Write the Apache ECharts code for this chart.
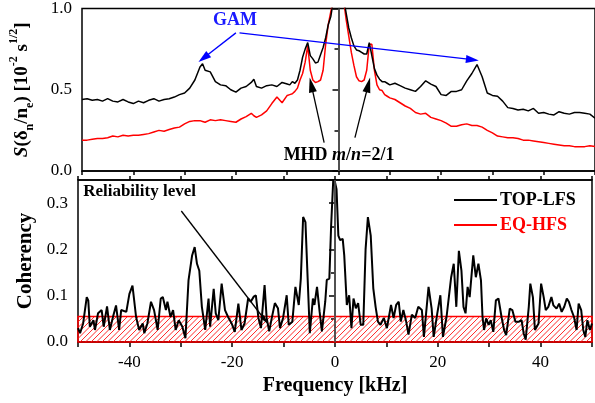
<!DOCTYPE html>
<html>
<head>
<meta charset="utf-8">
<script src="https://cdn.jsdelivr.net/npm/echarts@6/dist/echarts.min.js"></script>
<style>
  html, body { margin: 0; padding: 0; background: #fff; }
  #chart { width: 595px; height: 403px; }
</style>
</head>
<body>
<div id="chart"></div>
<script>
// Density fluctuation spectra (top) and coherency (bottom), frequency in kHz
const specFreq = [
  -50,-49,-48,-47,-46,-45,-44,-43,-42,-41,-40,-39,-38,-37,-36,-35,-34,-33,-32,-31,-30,-29,-28,-27,
  -26.5,
  -26,-25,-24,-23,-22,-21,-20,-19,-18,-17,
  -16.5,
  -16,-15,-14,-13,-12,-11,-10,
  -9.5,-9,-8.5,-8,-7.5,-7,-6.5,-6,-5.5,-5,
  -4.5,-4,-3.5,-3,-2.5,-2,-1.5,-1,-0.5,0,
  0.5,1,1.5,2,2.5,3,3.5,4,4.5,5,
  5.5,6,6.5,7,7.5,8,8.5,9,9.5,10,
  11,12,13,14,15,16,17,18,19,20,21,22,23,24,25,26,27,28,29,30,
  31,32,33,34,35,36,37,38,39,40,41,42,43,44,45,46,47,48,49,50
];
const specTopLfs = [
  0.44,0.445,0.435,0.44,0.43,0.445,0.43,0.425,0.44,0.425,0.415,0.43,0.42,0.435,0.445,0.43,0.44,0.445,0.455,0.47,0.48,0.51,0.56,0.64,
  0.66,
  0.62,0.61,0.55,0.53,0.525,0.50,0.485,0.51,0.52,0.545,
  0.565,
  0.52,0.51,0.525,0.53,0.52,0.545,0.535,
  0.53,0.55,0.54,0.56,0.62,0.70,0.75,0.79,0.71,0.69,
  0.665,0.67,0.715,0.76,0.82,0.90,0.95,1.05,1.1,1.02,
  1.1,1.06,0.97,0.88,0.82,0.77,0.745,0.74,0.73,0.72,
  0.72,0.79,0.71,0.63,0.59,0.565,0.55,0.55,0.54,0.53,
  0.54,0.525,0.51,0.50,0.49,0.52,0.555,0.535,0.52,0.47,0.465,0.49,0.49,0.50,0.555,0.60,0.655,0.58,0.48,0.465,
  0.46,0.43,0.39,0.385,0.375,0.38,0.37,0.385,0.355,0.36,0.35,0.345,0.365,0.355,0.35,0.36,0.36,0.355,0.35,0.325
];
const specEqHfs = [
  0.19,0.19,0.195,0.20,0.20,0.205,0.215,0.21,0.22,0.215,0.22,0.22,0.225,0.23,0.24,0.25,0.245,0.255,0.265,0.27,0.29,0.305,0.31,0.31,
  0.305,
  0.30,0.315,0.31,0.315,0.31,0.305,0.30,0.32,0.335,0.355,
  0.34,
  0.33,0.345,0.37,0.415,0.455,0.42,0.465,
  0.47,0.475,0.49,0.51,0.56,0.60,0.67,0.77,0.62,0.56,
  0.545,0.55,0.56,0.62,0.78,0.90,0.98,1.05,1.1,1.08,
  1.1,1.05,0.93,0.83,0.73,0.65,0.58,0.555,0.55,0.56,
  0.62,0.78,0.78,0.62,0.53,0.50,0.495,0.47,0.46,0.45,
  0.44,0.42,0.40,0.385,0.36,0.35,0.355,0.33,0.32,0.31,0.295,0.275,0.275,0.285,0.29,0.28,0.28,0.27,0.25,0.235,
  0.215,0.21,0.205,0.205,0.20,0.19,0.19,0.185,0.18,0.175,0.17,0.165,0.16,0.155,0.155,0.15,0.15,0.15,0.155,0.15
];

const cohFreq = [
  -50.0,-49.6,-49.0,-48.3,-48.0,-47.7,-47.0,-46.7,-46.1,-45.4,-45.0,-44.35,-43.8,-43.2,-42.6,-42.0,-41.6,-40.6,-40.0,-39.4,
  -38.7,-38.1,-37.4,-37.1,-36.5,-35.8,-35.2,-34.5,-33.9,-33.5,-32.9,-32.6,-32.0,-31.5,-31.0,-30.4,-29.7,-29.1,-28.5,-27.8,
  -27.3,-26.85,-26.4,-25.9,-25.25,-24.6,-24.3,-23.6,-23.2,-22.7,-22.05,-21.4,-20.8,-20.1,-19.5,-18.8,-18.2,-17.6,-16.9,-16.4,
  -15.8,-15.4,-14.9,-14.4,-13.7,-13.3,-12.8,-12.3,-11.7,-11.1,-10.7,-10.1,-9.4,-9.0,-8.3,-7.7,-7.05,-6.65,-6.2,-5.75,
  -5.4,-4.9,-4.3,-4.0,-3.5,-3.0,-2.55,-1.9,-1.6,-1.1,-0.75,-0.3,0.0,0.3,0.65,1.0,1.5,1.8,2.3,2.75,
  3.2,3.6,4.05,4.5,5.0,5.5,5.95,6.4,6.95,7.45,7.9,8.35,8.85,9.5,10.1,10.9,11.4,11.9,12.4,12.8,
  13.3,13.85,14.3,14.95,15.6,16.2,16.9,17.3,18.2,18.8,19.2,19.9,20.5,21.0,21.7,22.6,23.1,23.6,24.1,24.6,
  25.0,25.4,25.8,26.2,26.9,27.4,27.9,28.4,28.7,29.0,29.4,29.9,30.3,30.8,31.3,31.8,32.4,32.9,33.3,34.0,
  34.5,35.1,35.8,36.3,36.7,37.1,37.7,38.0,38.5,38.9,39.6,40.1,40.6,41.0,41.5,42.1,42.5,43.1,43.6,44.1,
  44.6,45.1,45.5,46.0,46.5,47.0,47.4,47.9,48.3,48.7,49.1,49.6,50.0
];
const cohValue = [
  0.030,0.019,0.040,0.097,0.090,0.033,0.047,0.026,0.062,0.069,0.033,0.077,0.026,0.054,0.079,0.026,0.069,0.065,0.104,0.122,
  0.054,0.026,0.040,0.019,0.040,0.087,0.069,0.026,0.094,0.097,0.069,0.087,0.054,0.069,0.026,0.047,0.033,0.008,0.133,0.187,
  0.205,0.169,0.154,0.076,0.026,0.094,0.033,0.115,0.062,0.047,0.126,0.069,0.054,0.040,0.022,0.083,0.026,0.040,0.094,0.087,
  0.098,0.101,0.052,0.030,0.123,0.052,0.023,0.052,0.084,0.073,0.030,0.052,0.101,0.037,0.044,0.119,0.080,0.137,0.270,0.259,
  0.159,0.019,0.094,0.080,0.119,0.066,0.023,0.087,0.134,0.137,0.252,0.360,0.345,0.330,0.230,0.220,0.223,0.187,0.080,0.101,
  0.030,0.094,0.073,0.084,0.037,0.037,0.200,0.270,0.230,0.116,0.076,0.044,0.037,0.052,0.030,0.080,0.052,0.080,0.087,0.044,
  0.069,0.044,0.016,0.059,0.052,0.076,0.069,0.011,0.119,0.072,0.011,0.062,0.101,0.011,0.054,0.140,0.169,0.076,0.197,0.154,
  0.076,0.062,0.119,0.097,0.187,0.140,0.169,0.133,0.054,0.026,0.051,0.037,0.047,0.022,0.090,0.094,0.054,0.026,0.015,0.072,
  0.069,0.044,0.044,0.047,0.019,0.005,0.076,0.126,0.097,0.026,0.040,0.126,0.097,0.069,0.076,0.097,0.079,0.072,0.083,0.065,
  0.076,0.094,0.087,0.069,0.054,0.026,0.083,0.069,0.026,0.011,0.047,0.026,0.040
];
const reliabilityLevel = 0.055;

const seriesNames = ['TOP-LFS', 'EQ-HFS'];
const seriesColors = ['#000000', '#ff0000'];

// annotation anchor points, in data units of each panel
const gamLabelAt = [-20.2, 0.925];
const gamArrowLeft = [[-20.0, 0.85], [-26.3, 0.695]];
const gamArrowRight = [[-19.3, 0.85], [26.1, 0.685]];
const mhdArrowLeft = [[-2.8, 0.175], [-5.3, 0.53]];
const mhdArrowRight = [[3.2, 0.205], [5.8, 0.53]];
const mhdLabelAt = [0.1, 0.095];
const reliabilityLabelAt = [-49.0, 0.324];
const reliabilityArrow = [[-29.9, 0.283], [-13.6, 0.047]];

const FONT = '"Liberation Serif", "Times New Roman", serif';

function zip(xs, ys) { return xs.map((x, i) => [x, ys[i]]); }

const tickLabel = { fontFamily: FONT, fontSize: 17, color: '#000' };
const axisLine = { show: true, lineStyle: { color: '#000', width: 1.5 } };

function arrowPair(a, b, color, size) {
  return [
    { coord: a, symbol: 'none', lineStyle: { color: color, width: 1.3, type: 'solid' } },
    { coord: b, symbol: 'triangle', symbolSize: size, lineStyle: { color: color, width: 1.3, type: 'solid' } }
  ];
}

// hatched band: red frame plus "/" strokes clipped to the band rectangle
function renderBand(params, api) {
  const tl = api.coord([api.value(0), api.value(3)]);
  const br = api.coord([api.value(2), api.value(1)]);
  const x0 = tl[0], y0 = tl[1], x1 = br[0], y1 = br[1];
  const step = 5.5;
  const children = [];
  for (let c = x0 + y0; c <= x1 + y1; c += step) {
    const xa = Math.max(x0, c - y1);
    const xb = Math.min(x1, c - y0);
    if (xb <= xa) continue;
    children.push({
      type: 'line',
      shape: { x1: xa, y1: c - xa, x2: xb, y2: c - xb },
      style: { stroke: '#ff2a2a', lineWidth: 1 }
    });
  }
  children.push({
    type: 'rect',
    shape: { x: x0, y: y0, width: x1 - x0, height: y1 - y0 },
    style: { fill: 'none', stroke: '#ff0000', lineWidth: 1.5 }
  });
  return { type: 'group', children: children };
}

const chart = echarts.init(document.getElementById('chart'), null, { renderer: 'canvas' });

const option = {
  animation: false,
  backgroundColor: '#fff',
  grid: [
    { left: 78, top: 8, width: 519, height: 163, show: true, borderColor: '#000', borderWidth: 1.5, backgroundColor: 'transparent' },
    { left: 78, top: 180, width: 519, height: 162, show: true, borderColor: '#000', borderWidth: 1.5, backgroundColor: 'transparent' }
  ],
  xAxis: [
    {
      type: 'value', gridIndex: 0, min: -50, max: 50, interval: 10, position: 'bottom',
      axisLine: axisLine, axisTick: { show: true, inside: false, length: 4, lineStyle: { width: 1.5, color: '#000' } },
      axisLabel: { show: false }, splitLine: { show: false }
    },
    {
      type: 'value', gridIndex: 1, min: -50, max: 50, interval: 10, position: 'bottom',
      axisLine: axisLine, axisTick: { show: true, inside: false, length: 5, lineStyle: { width: 1.5, color: '#000' } },
      axisLabel: Object.assign({ margin: 12, formatter: v => (v % 20 === 0 ? String(v) : '') }, tickLabel),
      splitLine: { show: false },
      name: 'Frequency [kHz]', nameLocation: 'middle', nameGap: 34,
      nameTextStyle: { fontFamily: FONT, fontSize: 20, fontWeight: 'bold', color: '#000' }
    },
    {
      type: 'value', gridIndex: 1, min: -50, max: 50, interval: 10, position: 'top',
      axisLine: axisLine, axisTick: { show: true, inside: false, length: 4, lineStyle: { width: 1.5, color: '#000' } },
      axisLabel: { show: false }, splitLine: { show: false }
    }
  ],
  yAxis: [
    {
      type: 'value', gridIndex: 0, min: 0, max: 1, interval: 0.5,
      axisLine: axisLine,
      axisTick: { show: true, inside: false, length: 6, lineStyle: { width: 1.5, color: '#000' } },
      minorTick: { show: true, splitNumber: 2, length: 4, lineStyle: { width: 1.5, color: '#000' } },
      axisLabel: Object.assign({ margin: 10, formatter: v => v.toFixed(1) }, tickLabel),
      splitLine: { show: false },
      name: '{i|S}{t|(δ}{s|n}{t|/n}{s|e}{t|) [10}{p|-2}{t| s}{p|1/2}{t|]}',
      nameLocation: 'middle', nameRotate: 90, nameGap: 46,
      nameTextStyle: {
        rich: {
          t: { fontFamily: FONT, fontSize: 19, fontWeight: 'bold', color: '#000', lineHeight: 28 },
          i: { fontFamily: FONT, fontSize: 19, fontWeight: 'bold', fontStyle: 'italic', color: '#000', lineHeight: 28 },
          s: { fontFamily: FONT, fontSize: 12, fontWeight: 'bold', color: '#000', lineHeight: 14, verticalAlign: 'bottom' },
          p: { fontFamily: FONT, fontSize: 12, fontWeight: 'bold', color: '#000', lineHeight: 14, verticalAlign: 'top' }
        }
      }
    },
    {
      type: 'value', gridIndex: 1, min: 0, max: 0.35, interval: 0.1,
      axisLine: axisLine,
      axisTick: { show: true, inside: false, length: 6, lineStyle: { width: 1.5, color: '#000' } },
      minorTick: { show: true, splitNumber: 2, length: 4, lineStyle: { width: 1.5, color: '#000' } },
      axisLabel: Object.assign({
        margin: 10,
        formatter: v => (Math.abs(v * 10 - Math.round(v * 10)) < 1e-6 ? v.toFixed(1) : '')
      }, tickLabel),
      splitLine: { show: false },
      name: 'Coherency', nameLocation: 'middle', nameRotate: 90, nameGap: 42,
      nameTextStyle: { fontFamily: FONT, fontSize: 21, fontWeight: 'bold', color: '#000' }
    }
  ],
  legend: {
    orient: 'vertical', left: 449, top: 186, itemWidth: 43, itemHeight: 14, itemGap: 7,
    icon: 'path://M0,0 L43,0 L43,2 L0,2 Z',
    data: [
      { name: seriesNames[0], textStyle: { color: seriesColors[0] } },
      { name: seriesNames[1], textStyle: { color: seriesColors[1] } }
    ],
    textStyle: { fontFamily: FONT, fontSize: 18, fontWeight: 'bold', padding: [0, 0, 0, -2] },
    selectedMode: false
  },
  series: [
    {
      name: seriesNames[1], type: 'line', xAxisIndex: 0, yAxisIndex: 0,
      data: zip(specFreq, specEqHfs), showSymbol: false, symbol: 'none',
      lineStyle: { color: seriesColors[1], width: 1.5 }, itemStyle: { color: seriesColors[1] }, z: 3
    },
    {
      name: seriesNames[0], type: 'line', xAxisIndex: 0, yAxisIndex: 0,
      data: zip(specFreq, specTopLfs), showSymbol: false, symbol: 'none',
      lineStyle: { color: seriesColors[0], width: 1.5 }, itemStyle: { color: seriesColors[0] }, z: 4,
      markLine: {
        silent: true, animation: false, symbol: ['none', 'none'],
        label: { show: false },
        data: [
          { xAxis: 0, lineStyle: { color: '#555', width: 1.6, type: 'solid' } },
          arrowPair(gamArrowLeft[0], gamArrowLeft[1], '#0000ff', [8, 13]),
          arrowPair(gamArrowRight[0], gamArrowRight[1], '#0000ff', [8, 13]),
          arrowPair(mhdArrowLeft[0], mhdArrowLeft[1], '#000', [8, 15]),
          arrowPair(mhdArrowRight[0], mhdArrowRight[1], '#000', [8, 15])
        ]
      }
    },
    {
      name: 'Reliability level', type: 'custom', xAxisIndex: 1, yAxisIndex: 1, z: 2, silent: true,
      renderItem: renderBand,
      encode: { x: [0, 2], y: [1, 3] },
      data: [[-50, 0, 50, reliabilityLevel]]
    },
    {
      name: 'Coherency', type: 'line', xAxisIndex: 1, yAxisIndex: 1,
      data: zip(cohFreq, cohValue), showSymbol: false, symbol: 'none',
      lineStyle: { color: '#000', width: 2 }, itemStyle: { color: '#000' }, z: 4,
      markLine: {
        silent: true, animation: false, symbol: ['none', 'none'],
        label: { show: false },
        data: [
          { xAxis: 0, lineStyle: { color: '#555', width: 1.6, type: 'solid' } },
          arrowPair(reliabilityArrow[0], reliabilityArrow[1], '#000', [5, 10])
        ]
      }
    }
  ]
};

chart.setOption(option);

// text annotations placed from data coordinates
const p = (gi, pt) => chart.convertToPixel({ gridIndex: gi }, pt);
const gamPx = p(0, gamLabelAt);
const mhdPx = p(0, mhdLabelAt);
const relPx = p(1, reliabilityLabelAt);

chart.setOption({
  graphic: [
    {
      type: 'text', x: gamPx[0], y: gamPx[1], z: 10,
      style: { text: 'GAM', fill: '#1a1aff', font: 'bold 18px ' + FONT, align: 'center', verticalAlign: 'middle' }
    },
    {
      type: 'text', x: mhdPx[0], y: mhdPx[1], z: 10,
      style: {
        text: '{b|MHD }{i|m}{b|/}{i|n}{b|=2/1}',
        align: 'center', verticalAlign: 'middle',
        rich: {
          b: { fontFamily: FONT, fontSize: 18, fontWeight: 'bold', fill: '#000' },
          i: { fontFamily: FONT, fontSize: 18, fontWeight: 'bold', fontStyle: 'italic', fill: '#000' }
        }
      }
    },
    {
      type: 'text', x: relPx[0], y: relPx[1], z: 10,
      style: { text: 'Reliability level', fill: '#000', font: 'bold 17px ' + FONT, align: 'left', verticalAlign: 'middle' }
    }
  ]
});
</script>
</body>
</html>
